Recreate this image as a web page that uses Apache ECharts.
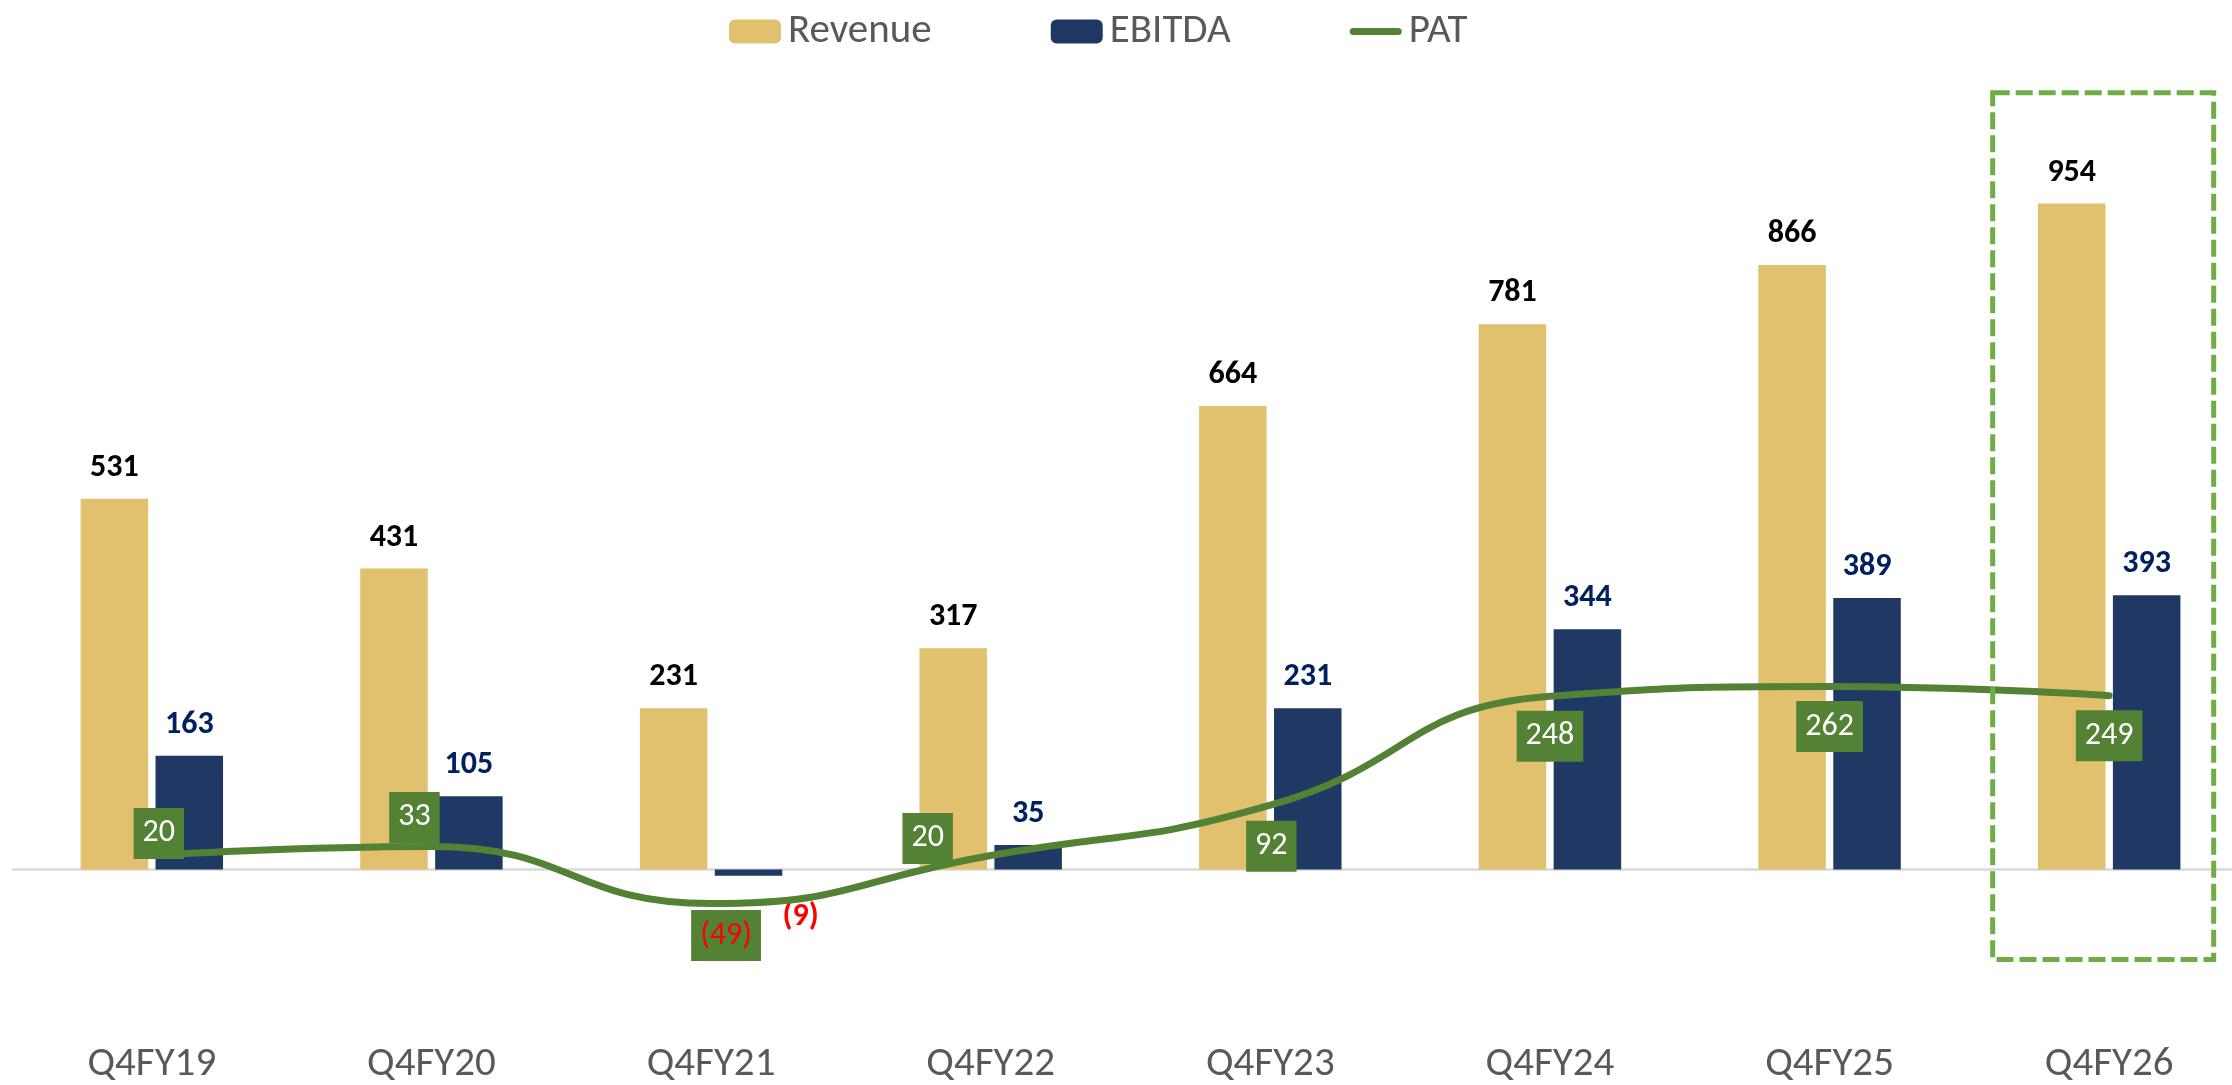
<!DOCTYPE html>
<html>
<head>
<meta charset="utf-8">
<title>Revenue / EBITDA / PAT</title>
<script src="https://cdn.jsdelivr.net/npm/echarts@6/dist/echarts.min.js"></script>
<style>
  html, body { margin: 0; padding: 0; background: #fff; overflow: hidden; }
  /* the Excel plot area runs a little past the right edge of the picture */
  #chart { width: 2260px; height: 1085px; }
</style>
</head>
<body>
<div id="chart"></div>
<script>
// data
const quarters = ['Q4FY19', 'Q4FY20', 'Q4FY21', 'Q4FY22', 'Q4FY23', 'Q4FY24', 'Q4FY25', 'Q4FY26']
const revenue = [531, 431, 231, 317, 664, 781, 866, 954]
const ebitda = [163, 105, -9, 35, 231, 344, 389, 393]
const pat = [20, 33, -49, 20, 92, 248, 262, 249]

// label nudges for the PAT boxes (px), like the hand-placed Excel labels
const patLabelOffsets = [[7, -22], [-17, -29], [15, 32], [-63, -17], [1, 41], [0, 40], [0, 40], [0, 40]]

const FONT = 'Carlito, Calibri, Lato, sans-serif'
const GOLD = '#E1C16E'
const NAVY = '#203864'
const GREEN = '#548235'

const fmt = v => (v < 0 ? '(' + Math.abs(v) + ')' : String(v))

const chart = echarts.init(document.getElementById('chart'))

chart.setOption({
  animation: false,
  legend: {
    left: 724,
    top: 6,
    itemWidth: 52,
    itemHeight: 24,
    itemGap: 119,
    textStyle: { color: '#595959', fontSize: 41, fontFamily: FONT, padding: [0, 0, 0, 2] },
    data: [
      'Revenue',
      'EBITDA',
      { name: 'PAT', icon: 'path://M4,0 L54,0 A4,4 0 0 1 54,8 L4,8 A4,4 0 0 1 4,0 Z', itemStyle: { color: GREEN } },
    ],
  },
  grid: { left: 12, top: 171.5, width: 2237, height: 839.4 },
  xAxis: {
    type: 'category',
    data: quarters,
    axisLine: { show: false },
    axisTick: { show: false },
    axisLabel: { color: '#595959', fontSize: 41, fontFamily: FONT, margin: 35 },
  },
  yAxis: { type: 'value', min: -200, max: 1000, show: false, splitLine: { show: false } },
  series: [
    {
      name: 'Revenue',
      type: 'bar',
      data: revenue,
      barWidth: 67.5,
      barGap: '11%',
      itemStyle: { color: GOLD },
      label: {
        show: true,
        position: 'top',
        distance: 15,
        color: '#000',
        fontWeight: 'bold',
        fontSize: 32,
        fontFamily: FONT,
      },
      markLine: {
        silent: true,
        symbol: 'none',
        label: { show: false },
        lineStyle: { color: '#D9D9D9', type: 'solid', width: 2.5 },
        data: [{ yAxis: 0 }],
        z: 1,
      },
    },
    {
      name: 'EBITDA',
      type: 'bar',
      barWidth: 67.5,
      data: ebitda.map(v => v < 0
        ? { value: v, label: { position: 'bottom', distance: 5, offset: [52, 20], color: '#FF0000' } }
        : v),
      itemStyle: { color: NAVY },
      label: {
        show: true,
        position: 'top',
        distance: 15,
        color: '#002060',
        fontWeight: 'bold',
        fontSize: 32,
        fontFamily: FONT,
        formatter: p => fmt(p.value),
      },
    },
    {
      name: 'PAT',
      type: 'line',
      smooth: 0.5,
      symbol: 'circle',
      symbolSize: 1,
      z: 5,
      data: pat.map((v, i) => ({
        value: v,
        label: { offset: patLabelOffsets[i], color: v < 0 ? '#FF0000' : '#fff' },
      })),
      itemStyle: { color: GREEN },
      lineStyle: { color: GREEN, width: 7, cap: 'round' },
      label: {
        show: true,
        position: 'inside',
        fontSize: 32,
        fontFamily: FONT,
        lineHeight: 30,
        backgroundColor: GREEN,
        padding: [10, 9, 11, 9],
        formatter: p => fmt(p.value),
      },
    },
  ],
})

// dashed highlight box around the latest quarter
const cx = chart.convertToPixel({ xAxisIndex: 0 }, 'Q4FY26')
const yTop = chart.convertToPixel({ yAxisIndex: 0 }, 1113)
const yBot = chart.convertToPixel({ yAxisIndex: 0 }, -129)
chart.setOption({
  graphic: [{
    type: 'rect',
    z: 10,
    silent: true,
    shape: { x: cx - 116.5, y: yTop, width: 221, height: yBot - yTop },
    style: { fill: 'none', stroke: '#70AD47', lineWidth: 5, lineDash: [17, 6] },
  }],
})
</script>
</body>
</html>
